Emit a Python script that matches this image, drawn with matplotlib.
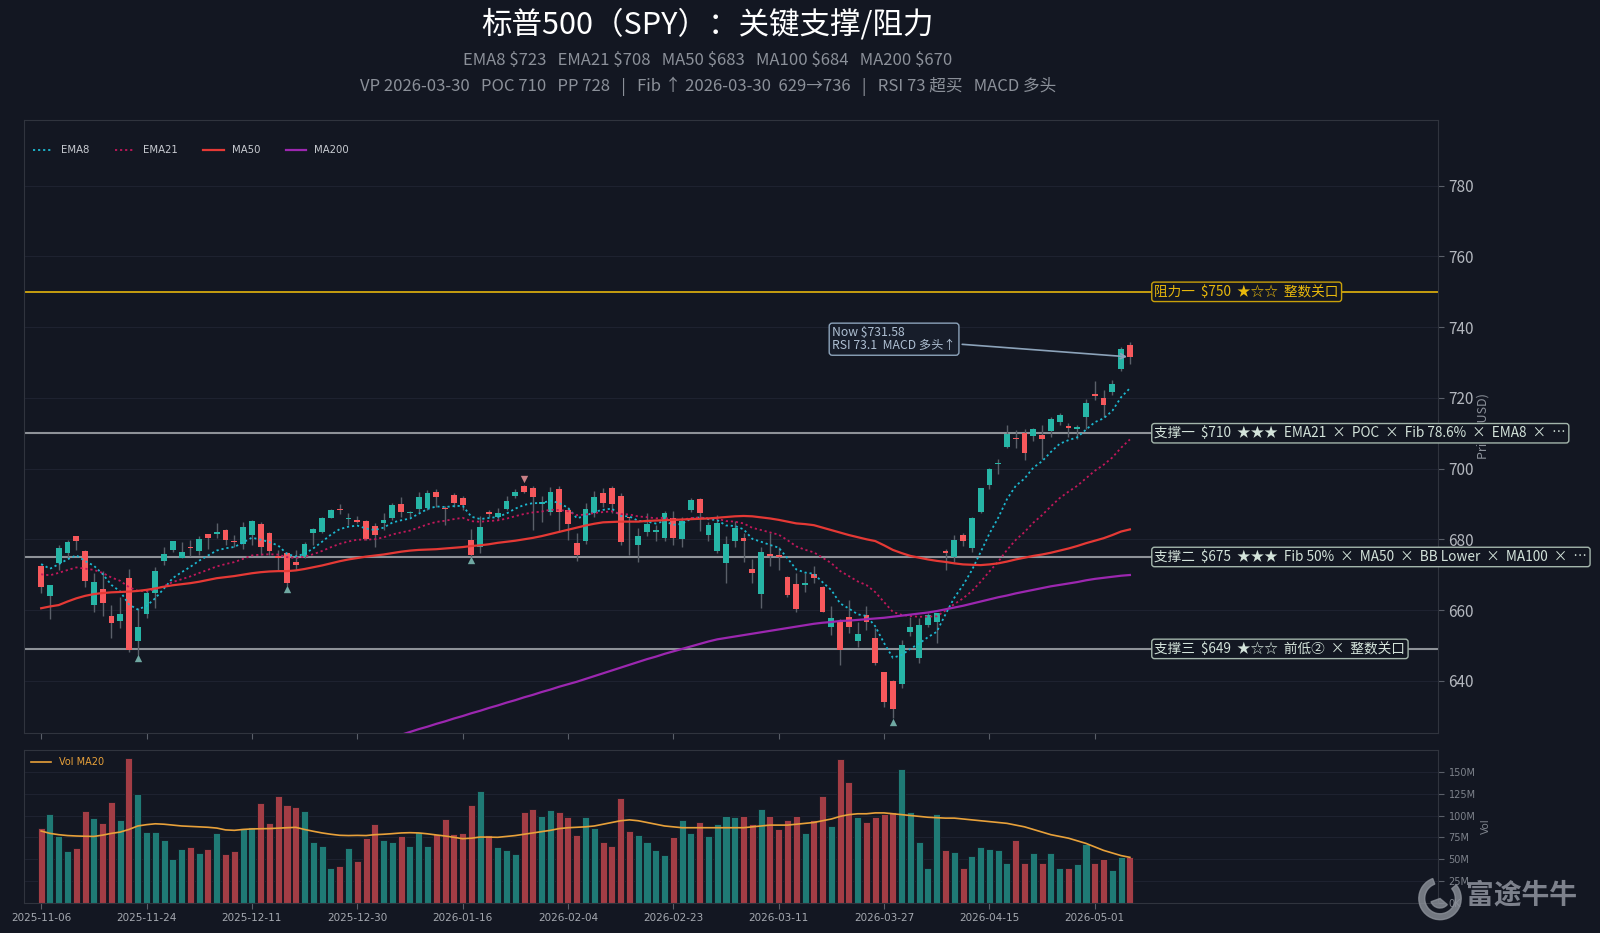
import matplotlib
matplotlib.use("Agg")
import matplotlib.pyplot as plt
import numpy as np
import pandas as pd
from matplotlib.ticker import FuncFormatter
from matplotlib.patches import Wedge

plt.rcParams['font.family'] = ['Noto Sans CJK SC', 'DejaVu Sans']

# ---------------------------------------------------------------------------
# data
HOLIDAYS = ['2025-11-27', '2025-12-25', '2026-01-01', '2026-01-19',
            '2026-02-16', '2026-04-03']

OPEN = [672.5, 664.1, 673.3, 676.0, 680.9, 676.6, 661.5, 665.9, 658.2, 657.0,
        669.0, 651.3, 658.9, 664.7, 673.8, 677.0, 674.8, 677.9, 676.7, 681.4,
        681.6, 682.6, 679.2, 678.8, 681.2, 684.2, 681.7, 675.1, 676.0, 673.7,
        675.1, 681.9, 682.0, 686.1, 688.6, 685.7, 685.5, 685.2, 683.7, 684.7,
        686.1, 690.1, 687.3, 688.5, 688.9, 693.5, 688.9, 692.6, 691.7, 679.7,
        677.8, 687.8, 686.2, 688.6, 692.3, 695.0, 694.4, 690.1, 687.8, 694.1,
        688.3, 679.0, 679.5, 687.5, 693.0, 694.4, 692.2, 686.3, 678.3, 682.2,
        682.0, 680.5, 685.9, 680.1, 688.3, 691.3, 681.2, 676.8, 673.2, 679.6,
        680.3, 671.5, 664.5, 675.8, 675.6, 669.3, 667.4, 667.0, 670.3, 666.4,
        655.3, 656.7, 657.9, 651.1, 658.6, 652.0, 642.4, 640.0, 639.0, 653.9,
        646.3, 655.8, 656.7, 676.4, 674.9, 681.2, 677.4, 687.8, 695.3, 701.3,
        706.2, 708.5, 710.1, 709.2, 709.5, 710.7, 713.3, 711.7, 711.1, 714.7,
        721.1, 719.9, 721.7, 728.1, 735.1]
HIGH = [672.7, 667.2, 678.4, 679.8, 681.0, 677.0, 670.5, 670.9, 661.4, 663.8,
        671.6, 660.5, 665.7, 672.3, 677.7, 679.6, 679.1, 679.8, 680.9, 681.5,
        684.5, 682.8, 681.2, 685.0, 685.5, 685.0, 682.2, 677.0, 676.5, 677.0,
        679.3, 683.1, 686.2, 688.5, 689.9, 687.3, 686.6, 685.4, 684.5, 687.5,
        690.2, 692.0, 688.1, 693.4, 693.9, 694.1, 689.4, 693.2, 692.2, 682.9,
        686.6, 688.3, 688.9, 692.2, 694.1, 695.3, 695.0, 692.2, 694.9, 695.0,
        689.2, 681.7, 690.2, 693.8, 694.4, 695.1, 693.2, 686.4, 683.1, 687.3,
        684.0, 688.1, 688.1, 686.4, 691.6, 691.6, 685.0, 686.9, 680.8, 685.3,
        681.7, 674.3, 677.9, 681.7, 677.7, 669.6, 670.4, 670.4, 672.5, 666.8,
        661.1, 657.5, 662.7, 656.7, 661.0, 654.8, 642.6, 640.2, 651.5, 658.1,
        657.6, 659.1, 659.2, 677.2, 681.2, 681.9, 686.4, 694.4, 700.1, 702.6,
        712.3, 710.9, 711.1, 711.4, 712.3, 714.5, 715.6, 712.8, 712.3, 719.6,
        724.8, 722.2, 725.0, 734.5, 735.9]
LOW = [664.7, 657.4, 671.3, 674.9, 677.0, 666.6, 659.3, 658.4, 652.0, 654.8,
       648.0, 647.3, 657.7, 660.7, 672.6, 676.5, 674.6, 675.3, 675.6, 677.3,
       680.3, 678.4, 677.9, 677.3, 678.4, 675.6, 675.6, 671.3, 666.9, 671.3,
       674.6, 678.4, 681.7, 685.9, 687.1, 684.0, 684.5, 679.8, 677.9, 682.6,
       685.4, 686.2, 686.4, 687.8, 688.3, 689.2, 684.0, 689.2, 688.3, 675.1,
       676.0, 686.4, 685.4, 688.3, 691.6, 693.0, 682.6, 685.0, 686.9, 682.1,
       679.8, 673.9, 678.7, 686.4, 689.2, 687.3, 678.4, 675.6, 673.7, 680.8,
       679.5, 679.6, 678.4, 677.9, 687.8, 682.4, 679.5, 676.0, 667.6, 677.7,
       673.7, 667.7, 660.5, 672.5, 671.3, 663.8, 659.5, 665.2, 667.7, 659.3,
       652.9, 644.5, 653.4, 649.6, 654.3, 644.5, 632.7, 629.4, 637.9, 652.7,
       644.9, 655.3, 650.8, 671.3, 673.7, 678.1, 676.5, 687.5, 694.1, 698.6,
       705.7, 705.7, 702.4, 707.9, 702.6, 708.8, 712.3, 709.0, 708.3, 711.1,
       719.4, 714.7, 720.8, 727.7, 729.7]
CLOSE = [666.5, 667.0, 677.5, 679.1, 679.5, 668.2, 667.9, 661.9, 656.3, 658.8,
         648.7, 655.1, 664.7, 671.0, 675.8, 679.4, 676.4, 677.6, 680.0, 680.5,
         681.8, 679.7, 679.1, 683.6, 685.2, 677.9, 676.8, 674.8, 667.6, 672.6,
         678.6, 682.8, 685.9, 688.3, 688.3, 686.0, 685.0, 680.1, 681.2, 685.6,
         689.8, 687.6, 687.6, 692.0, 693.2, 691.9, 688.5, 690.3, 689.8, 675.6,
         683.4, 687.1, 687.3, 690.7, 693.5, 693.4, 692.0, 690.3, 693.4, 687.8,
         684.3, 675.7, 688.6, 692.1, 690.2, 690.0, 679.3, 686.0, 680.9, 684.3,
         682.5, 687.5, 680.5, 685.2, 691.1, 687.3, 684.0, 684.5, 678.6, 683.3,
         679.5, 670.6, 676.5, 675.3, 674.9, 664.2, 660.4, 667.5, 669.0, 659.5,
         657.8, 648.7, 655.3, 653.1, 656.7, 645.1, 634.1, 631.9, 650.1, 655.1,
         655.8, 658.6, 659.1, 676.2, 679.8, 679.6, 685.9, 694.4, 699.9, 701.7,
         709.8, 708.4, 704.3, 711.1, 708.4, 713.9, 715.1, 711.6, 711.7, 718.6,
         720.5, 718.0, 723.8, 733.7, 731.58]
VOLUME_M = [86.0, 101.2, 76.5, 59.8, 62.9, 104.6, 97.4, 91.4, 115.3, 95.2,
            166.3, 124.4, 81.4, 81.4, 72.3, 49.9, 61.3, 63.6, 57.5, 62.1,
            79.5, 55.6, 59.0, 86.0, 86.4, 113.8, 91.4, 122.9, 111.5, 109.3,
            104.6, 70.0, 65.1, 40.0, 41.9, 62.9, 47.6, 74.2, 89.9, 72.3,
            69.7, 76.1, 64.7, 80.7, 64.7, 78.4, 95.5, 78.4, 79.5, 112.3,
            128.6, 77.3, 63.6, 60.6, 56.0, 104.0, 108.0, 100.0, 106.0, 104.0,
            98.0, 78.0, 98.0, 86.0, 70.0, 65.0, 120.0, 82.0, 78.0, 70.0,
            60.0, 55.0, 75.0, 95.0, 80.0, 92.0, 76.0, 90.0, 100.0, 98.0,
            100.0, 90.0, 108.0, 100.0, 85.0, 95.0, 100.0, 80.0, 95.0, 122.0,
            88.0, 165.0, 138.0, 98.0, 92.0, 98.0, 102.0, 104.0, 153.0, 104.0,
            70.0, 40.0, 102.0, 60.0, 58.0, 40.0, 54.0, 64.0, 62.0, 60.0,
            45.0, 72.0, 45.0, 57.0, 45.0, 57.0, 40.0, 40.0, 44.0, 67.0,
            45.0, 50.0, 38.0, 52.0, 52.0]
VOL_MA20_M = [82.2, 79.5, 78.0, 77.0, 76.5, 76.2, 76.0, 77.5, 79.5, 81.0,
              84.0, 88.0, 89.5, 90.5, 90.0, 89.0, 88.0, 87.5, 87.0, 86.5,
              85.6, 83.5, 83.0, 84.0, 84.6, 84.8, 85.0, 85.5, 86.0, 86.4,
              84.0, 81.9, 80.0, 78.5, 77.3, 77.0, 77.2, 77.0, 78.0, 78.5,
              79.2, 80.0, 80.3, 80.0, 79.0, 77.7, 76.5, 75.0, 73.4, 74.0,
              75.3, 75.2, 75.0, 76.0, 77.0, 78.5, 80.0, 81.5, 83.0, 85.0,
              86.0, 86.5, 87.0, 88.0, 90.0, 92.0, 94.0, 95.0, 94.0, 92.0,
              90.0, 88.0, 87.0, 86.0, 86.0, 86.0, 86.0, 86.0, 86.0, 86.0,
              86.0, 87.0, 88.0, 89.0, 89.0, 89.0, 90.0, 91.0, 92.0, 94.0,
              96.0, 99.0, 101.0, 102.0, 102.0, 103.0, 103.0, 102.0, 101.0, 100.0,
              99.0, 98.0, 97.5, 97.0, 97.0, 96.0, 95.0, 94.0, 93.0, 92.0,
              91.0, 89.0, 87.0, 84.0, 81.0, 78.0, 76.0, 74.0, 71.0, 68.0,
              64.0, 60.0, 57.0, 54.0, 52.0]
MA50 = [660.5, 661.0, 661.4, 662.4, 663.3, 664.0, 664.5, 664.8, 665.0, 665.1,
        665.2, 665.4, 665.7, 666.1, 666.6, 667.0, 667.3, 667.6, 668.0, 668.5,
        669.0, 669.3, 669.6, 670.0, 670.4, 670.7, 670.9, 671.0, 671.0, 671.2,
        671.6, 672.1, 672.6, 673.2, 673.8, 674.3, 674.7, 675.1, 675.4, 675.7,
        676.1, 676.5, 676.8, 677.0, 677.1, 677.2, 677.4, 677.6, 677.8, 678.1,
        678.3, 678.6, 679.0, 679.3, 679.6, 680.0, 680.4, 680.9, 681.5, 682.1,
        682.7, 683.3, 683.9, 684.4, 684.8, 684.9, 685.0, 685.0, 685.0, 685.2,
        685.3, 685.4, 685.5, 685.6, 685.7, 685.8, 685.9, 686.1, 686.3, 686.5,
        686.6, 686.5, 686.2, 685.9, 685.5, 685.0, 684.5, 684.3, 684.0, 683.3,
        682.6, 681.9, 681.2, 680.6, 680.0, 679.5, 678.3, 677.0, 676.1, 675.3,
        674.8, 674.3, 673.9, 673.6, 673.2, 672.9, 672.8, 672.7, 672.9, 673.2,
        673.7, 674.3, 674.8, 675.3, 675.7, 676.2, 676.8, 677.4, 678.1, 678.9,
        679.6, 680.3, 681.2, 682.2, 682.8]
MA200 = [593.5, 594.3, 595.0, 595.8, 596.5, 597.3, 598.1, 598.8, 599.6, 600.4,
         601.1, 601.9, 602.7, 603.4, 604.2, 604.9, 605.7, 606.5, 607.2, 608.0,
         608.7, 609.5, 610.3, 611.0, 611.8, 612.6, 613.3, 614.1, 614.8, 615.6,
         616.4, 617.1, 617.9, 618.6, 619.4, 620.2, 620.9, 621.7, 622.4, 623.2,
         624.0, 624.7, 625.5, 626.3, 627.0, 627.8, 628.5, 629.3, 630.0, 630.8,
         631.5, 632.3, 633.0, 633.8, 634.5, 635.3, 636.0, 636.8, 637.5, 638.3,
         639.0, 639.7, 640.5, 641.3, 642.1, 642.9, 643.7, 644.5, 645.3, 646.1,
         646.8, 647.6, 648.3, 649.0, 649.7, 650.4, 651.1, 651.7, 652.1, 652.5,
         652.9, 653.3, 653.7, 654.1, 654.5, 654.9, 655.3, 655.7, 656.1, 656.4,
         656.6, 656.9, 657.0, 657.2, 657.4, 657.6, 657.8, 658.1, 658.4, 658.7,
         659.0, 659.3, 659.7, 660.2, 660.7, 661.2, 661.8, 662.4, 663.0, 663.6,
         664.1, 664.7, 665.2, 665.7, 666.2, 666.7, 667.1, 667.5, 667.9, 668.4,
         668.8, 669.1, 669.4, 669.7, 669.9]
EMA8_START = 673.0
EMA21_START = 670.1

SWING_LOW_IDX = [11, 28, 49, 97]
SWING_HIGH_IDX = [55]

RES_LEVELS = [750]
RES_LABELS = ["阻力一  $750  ★☆☆  整数关口"]
SUP_LEVELS = [710, 675, 649]
SUP_LABELS = ["支撑一  $710  ★★★  EMA21  ×  POC  ×  Fib 78.6%  ×  EMA8  ×  …",
              "支撑二  $675  ★★★  Fib 50%  ×  MA50  ×  BB Lower  ×  MA100  ×  …",
              "支撑三  $649  ★☆☆  前低②  ×  整数关口"]

NOW_PRICE = 731.58
NOW_TEXT = "Now $731.58\nRSI 73.1  MACD 多头↑"

TITLE = "标普500（SPY）：关键支撑/阻力"
SUB1 = "EMA8 $723   EMA21 $708   MA50 $683   MA100 $684   MA200 $670"
SUB2 = "VP 2026-03-30   POC 710   PP 728   |   Fib ↑ 2026-03-30  629→736   |   RSI 73 超买   MACD 多头"

# ---------------------------------------------------------------------------
BG = '#131722'
UP = '#26b5a6'
DOWN = '#f7585c'
GRID = '#1e2230'
TXT = '#8b9099'


def ema(values, span, start):
    a = 2.0 / (span + 1)
    out = [start]
    for v in values[1:]:
        out.append(a * v + (1 - a) * out[-1])
    return np.array(out)


n = len(CLOSE)
dates = pd.bdate_range('2025-11-06', '2026-06-30', freq='C', holidays=HOLIDAYS)[:n]
x = np.arange(n)
o = np.array(OPEN)
h = np.array(HIGH)
l = np.array(LOW)
c = np.array(CLOSE)
up = c >= o
ema8 = ema(CLOSE, 8, EMA8_START)
ema21 = ema(CLOSE, 21, EMA21_START)

fig = plt.figure(figsize=(16, 9.33), dpi=100, facecolor=BG)
ax = fig.add_axes([0.0153, 0.2147, 0.8835, 0.6563], facecolor=BG)
axv = fig.add_axes([0.0153, 0.0325, 0.8835, 0.1635], facecolor=BG, sharex=ax)

# candles
ax.vlines(x, l, h, color='#5a5f69', linewidth=1.0, zorder=2)
body_lo = np.minimum(o, c)
body_h = np.maximum(np.abs(c - o), 0.35)
ax.bar(x, body_h, bottom=body_lo, width=0.66,
       color=np.where(up, UP, DOWN), linewidth=0, zorder=3)

# moving averages
ax.plot(x, ema8, color='#1cb8d0', lw=1.3, ls=(0, (1.2, 1.6)), label='EMA8', zorder=4)
ax.plot(x, ema21, color='#c2185b', lw=1.3, ls=(0, (1.2, 1.6)), label='EMA21', zorder=4)
ax.plot(x, MA50, color='#e53935', lw=1.6, label='MA50', zorder=4)
ax.plot(x, MA200, color='#9c27b0', lw=1.6, label='MA200', zorder=4)

# swing markers
ax.scatter(SWING_LOW_IDX, l[SWING_LOW_IDX] - 1.0, marker='^', s=28,
           color='#6fa8a2', zorder=5, linewidths=0)
ax.scatter(SWING_HIGH_IDX, h[SWING_HIGH_IDX] + 1.8, marker='v', s=28,
           color='#c98086', zorder=5, linewidths=0)

# support / resistance
for lev, lab in zip(RES_LEVELS, RES_LABELS):
    ax.axhline(lev, color='#d4a90f', lw=1.3, zorder=1)
    ax.text(126.8, lev, lab, color='#e8b80c', fontsize=9.8, va='center', ha='left',
            zorder=6, bbox=dict(boxstyle='round,pad=0.2', fc=BG, ec='#c9a00a', lw=1.0))
for lev, lab in zip(SUP_LEVELS, SUP_LABELS):
    ax.axhline(lev, color='#8e9298', lw=1.5, zorder=1)
    ax.text(126.8, lev, lab, color='#d3e3da', fontsize=9.8, va='center', ha='left',
            zorder=6, bbox=dict(boxstyle='round,pad=0.2', fc=BG, ec='#a3b5ab', lw=1.0))

ax.annotate(NOW_TEXT, xy=(n - 1, NOW_PRICE), xytext=(90.1, 736.6),
            color='#aebfd2', fontsize=8.8, va='center', ha='left', zorder=7,
            linespacing=1.0,
            bbox=dict(boxstyle='round,pad=0.25', fc='#171d2a', ec='#8ca3ba', lw=1.0),
            arrowprops=dict(arrowstyle='->', color='#8ca3ba', lw=1.2))

ax.set_xlim(-1.9, 159.1)
ax.set_ylim(625.3, 798.5)
ax.yaxis.tick_right()
ax.yaxis.set_label_position('right')
ax.set_yticks(np.arange(640, 781, 20))
ax.tick_params(axis='y', colors='#5a5f69', labelcolor='#b3b7be', labelsize=11, length=4)
ax.set_ylabel('Price (USD)', color=TXT, fontsize=9, labelpad=2)
ax.set_xticks(np.arange(0, n, 12))
ax.tick_params(axis='x', colors='#5a5f69', labelbottom=False, length=4)
ax.grid(axis='y', color=GRID, lw=0.8)
for sp in ax.spines.values():
    sp.set_color('#30343e')

leg = ax.legend(loc='upper left', bbox_to_anchor=(0.003, 0.966), ncol=4, frameon=False,
                handlelength=2.0, columnspacing=2.5, borderaxespad=0,
                prop={'family': 'DejaVu Sans', 'size': 7.3})
for t in leg.get_texts():
    t.set_color('#c9ccd2')

# volume panel
vol = np.array(VOLUME_M) * 1e6
axv.bar(x, vol, width=0.8, color=np.where(up, '#1f7a75', '#a33d45'),
        edgecolor=BG, linewidth=0.6, zorder=2)
axv.plot(x, np.array(VOL_MA20_M) * 1e6, color='#e8a13a', lw=1.2, label='Vol MA20', zorder=3)
axv.set_ylim(0, 175e6)
axv.yaxis.tick_right()
axv.yaxis.set_label_position('right')
axv.set_yticks(np.arange(0, 151e6, 25e6))
axv.yaxis.set_major_formatter(FuncFormatter(
    lambda v, p: '{:.0f}M'.format(v / 1e6) if v >= 1e6 else '{:.0f}K'.format(v / 1e3)))
axv.tick_params(axis='y', colors='#5a5f69', labelcolor='#7d828b', labelsize=7, length=4)
for t in axv.get_yticklabels():
    t.set_family('DejaVu Sans')
axv.set_ylabel('Vol', color='#7d828b', fontsize=7.5, family='DejaVu Sans', labelpad=4)
axv.set_xticks(np.arange(0, n, 12))
axv.set_xticklabels([dates[i].strftime('%Y-%m-%d') for i in range(0, n, 12)],
                    family='DejaVu Sans')
axv.tick_params(axis='x', colors='#5a5f69', labelcolor='#a5a9b0', labelsize=7.5, length=4)
axv.grid(axis='y', color=GRID, lw=0.8)
for sp in axv.spines.values():
    sp.set_color('#30343e')
lv = axv.legend(loc='upper left', frameon=False, borderaxespad=0.3,
                prop={'family': 'DejaVu Sans', 'size': 7}, handlelength=2.0)
for t in lv.get_texts():
    t.set_color('#e8a13a')

# titles
fig.text(0.4425, 1 - 24.5 / 933, TITLE, color='white', fontsize=22, ha='center', va='center')
fig.text(0.4425, 1 - 60.2 / 933, SUB1, color=TXT, fontsize=12, ha='center', va='center')
fig.text(0.4425, 1 - 86.7 / 933, SUB2, color=TXT, fontsize=12, ha='center', va='center')

# watermark
logo = fig.add_axes([0.885, 0.012, 0.03, 0.05])
logo.set_axis_off()
logo.set_aspect('equal')
logo.add_patch(Wedge((0, 0), 1.0, 110, 40, width=0.28, color='#8c919a', alpha=0.8))
logo.add_patch(Wedge((0, 0), 0.45, 200, 320, color='#8c919a', alpha=0.8))
logo.set_xlim(-1.1, 1.1)
logo.set_ylim(-1.1, 1.1)
fig.text(0.951, 1 - 896 / 933, '富途牛牛', color='#9095a0', fontsize=20, fontweight='bold',
         ha='center', va='center', alpha=0.85)

fig.savefig('out.png', dpi=100, facecolor=BG)
